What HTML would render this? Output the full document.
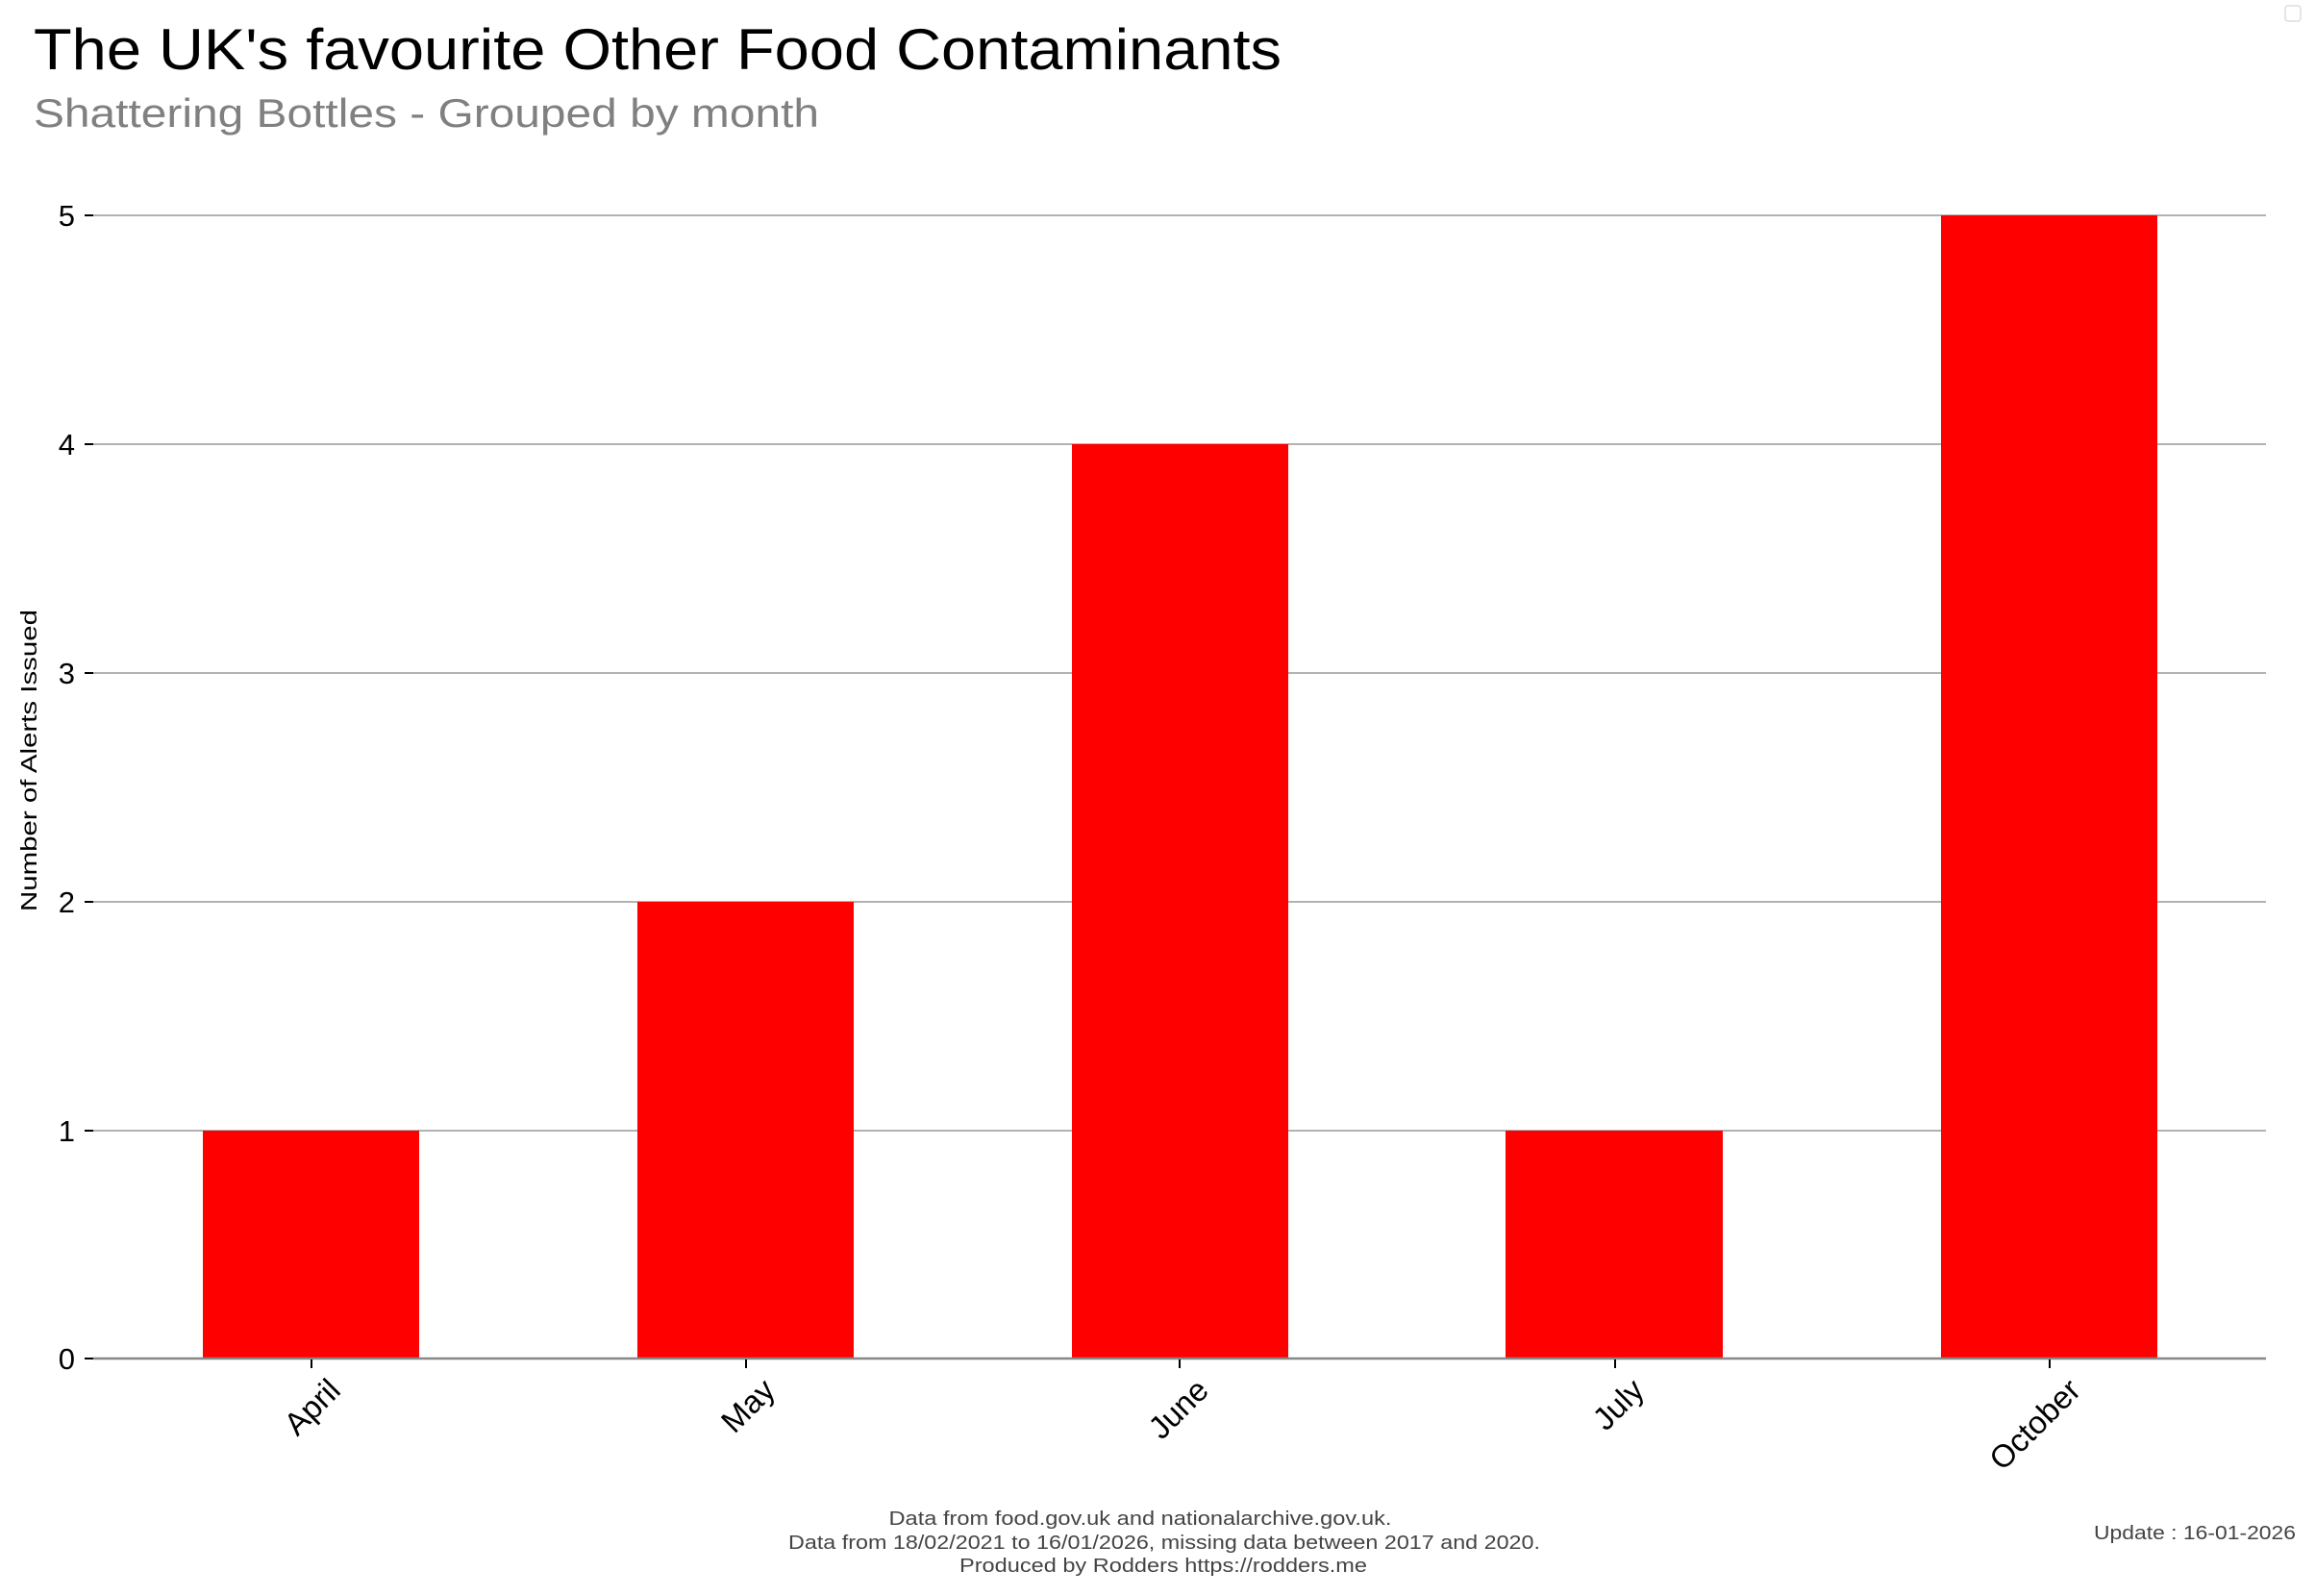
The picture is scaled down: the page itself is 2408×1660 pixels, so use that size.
<!DOCTYPE html>
<html><head><meta charset="utf-8"><style>
html,body{margin:0;padding:0;background:#fff}
svg{display:block}
text{font-family:"Liberation Sans",sans-serif}
</style></head><body>
<svg width="2408" height="1660" viewBox="0 0 2408 1660" xmlns="http://www.w3.org/2000/svg">
<rect x="2377" y="6" width="16" height="16" rx="3" fill="#fff" stroke="#ddd" stroke-width="1.5"/>
<text x="35" y="72" font-size="60" fill="#000" textLength="1298" lengthAdjust="spacingAndGlyphs">The UK's favourite Other Food Contaminants</text>
<text x="35" y="132" font-size="42" fill="#808080" textLength="817" lengthAdjust="spacingAndGlyphs">Shattering Bottles - Grouped by month</text>
<g stroke="#999" stroke-width="1.5">
<line x1="97" x2="2357" y1="224" y2="224"/>
<line x1="97" x2="2357" y1="462" y2="462"/>
<line x1="97" x2="2357" y1="700" y2="700"/>
<line x1="97" x2="2357" y1="938" y2="938"/>
<line x1="97" x2="2357" y1="1176" y2="1176"/>
</g>
<g stroke="#000" stroke-width="2">
<line x1="88" x2="97" y1="224" y2="224"/>
<line x1="88" x2="97" y1="462" y2="462"/>
<line x1="88" x2="97" y1="700" y2="700"/>
<line x1="88" x2="97" y1="938" y2="938"/>
<line x1="88" x2="97" y1="1176" y2="1176"/>
<line x1="88" x2="97" y1="1413" y2="1413"/>
</g>
<g fill="#ff0000">
<rect x="211" y="1176" width="225" height="237"/>
<rect x="663" y="938" width="225" height="475"/>
<rect x="1115" y="462" width="225" height="951"/>
<rect x="1566" y="1176" width="226" height="237"/>
<rect x="2019" y="224" width="225" height="1189"/>
</g>
<line x1="97" x2="2357" y1="1413" y2="1413" stroke="#888" stroke-width="2.5"/>
<g stroke="#000" stroke-width="2">
<line x1="324" x2="324" y1="1414" y2="1423"/>
<line x1="776" x2="776" y1="1414" y2="1423"/>
<line x1="1227" x2="1227" y1="1414" y2="1423"/>
<line x1="1680" x2="1680" y1="1414" y2="1423"/>
<line x1="2132" x2="2132" y1="1414" y2="1423"/>
</g>
<g font-size="31" fill="#000" text-anchor="end">
<text x="78" y="235">5</text>
<text x="78" y="473">4</text>
<text x="78" y="711">3</text>
<text x="78" y="949">2</text>
<text x="78" y="1187">1</text>
<text x="78" y="1424">0</text>
</g>
<g font-size="33" fill="#000" text-anchor="end">
<text transform="translate(356,1448) rotate(-45)">April</text>
<text transform="translate(808,1448) rotate(-45)">May</text>
<text transform="translate(1259,1448) rotate(-45)">June</text>
<text transform="translate(1712,1448) rotate(-45)">July</text>
<text transform="translate(2166,1448) rotate(-45)">October</text>
</g>
<text transform="translate(38,791) rotate(-90)" font-size="23" text-anchor="middle" fill="#000" textLength="314" lengthAdjust="spacingAndGlyphs">Number of Alerts Issued</text>
<g font-size="20" fill="#444" text-anchor="middle">
<text x="1186" y="1586" textLength="523" lengthAdjust="spacingAndGlyphs">Data from food.gov.uk and nationalarchive.gov.uk.</text>
<text x="1211" y="1611" textLength="782" lengthAdjust="spacingAndGlyphs">Data from 18/02/2021 to 16/01/2026, missing data between 2017 and 2020.</text>
<text x="1210" y="1635" textLength="424" lengthAdjust="spacingAndGlyphs">Produced by Rodders https://rodders.me</text>
</g>
<text x="2388" y="1601" font-size="20" fill="#444" text-anchor="end" textLength="210" lengthAdjust="spacingAndGlyphs">Update : 16-01-2026</text>
</svg>
</body></html>
